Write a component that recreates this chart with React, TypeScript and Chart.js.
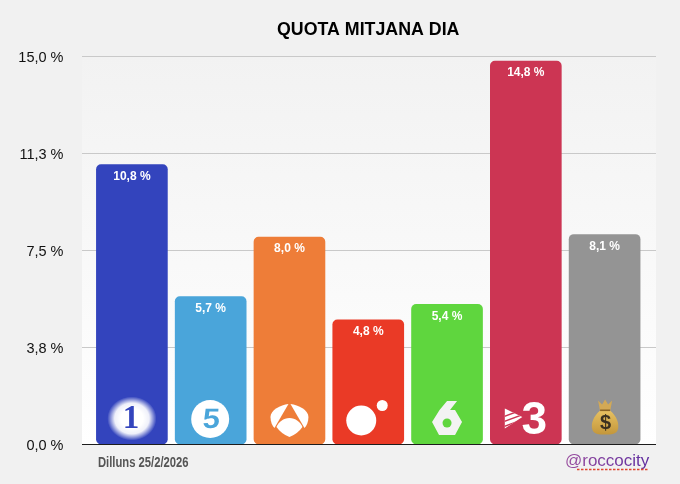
import React, { useEffect, useRef } from "react";
import { Chart, registerables } from "chart.js";

Chart.register(...registerables);

const channels = ["La 1", "Telecinco", "Antena 3", "Cuatro", "laSexta", "3CAT", "Altres"];
const shares = [10.8, 5.7, 8.0, 4.8, 5.4, 14.8, 8.1];
const shareLabels = ["10,8 %", "5,7 %", "8,0 %", "4,8 %", "5,4 %", "14,8 %", "8,1 %"];
const barColors = ["#3344BD", "#4AA5DA", "#EE7D38", "#EA3A26", "#5FD63E", "#CC3553", "#949494"];
const tickValues = [0, 3.75, 7.5, 11.25, 15];
const tickLabels = ["0,0 %", "3,8 %", "7,5 %", "11,3 %", "15,0 %"];
const titleText = "QUOTA MITJANA DIA";
const dateText = "Dilluns 25/2/2026";
const handleText = "@roccocity";

const FONT = '"Liberation Sans", Arial, sans-serif';
const PAGE_BG = "#f1f1f1";

type Ctx = CanvasRenderingContext2D;

function poly(c: Ctx, x: number, y: number, pts: number[][]) {
  c.beginPath();
  pts.forEach(([px, py], i) => (i ? c.lineTo(x + px, y + py) : c.moveTo(x + px, y + py)));
  c.closePath();
  c.fill();
}

function logoOne(c: Ctx, x: number, y: number) {
  c.save();
  c.translate(x, y);
  c.scale(1.12, 1);
  const g = c.createRadialGradient(0, 0, 10, 0, 0, 22);
  g.addColorStop(0, "rgba(255,255,255,1)");
  g.addColorStop(0.45, "rgba(255,255,255,0.92)");
  g.addColorStop(1, "rgba(255,255,255,0)");
  c.fillStyle = g;
  c.beginPath();
  c.arc(0, 0, 22, 0, Math.PI * 2);
  c.fill();
  c.restore();
  c.fillStyle = "#3344BD";
  c.font = 'bold 33px "Liberation Serif", serif';
  c.textAlign = "center";
  c.textBaseline = "middle";
  c.fillText("1", x - 1, y + 1);
}

function logoFive(c: Ctx, x: number, y: number) {
  c.fillStyle = "#fff";
  c.beginPath();
  c.arc(x, y, 19, 0, Math.PI * 2);
  c.fill();
  c.fillStyle = "#4AA5DA";
  c.font = `bold 28px ${FONT}`;
  c.textAlign = "center";
  c.textBaseline = "middle";
  c.save();
  c.translate(x + 1, y + 1);
  c.transform(1.1, 0, -0.06, 1, 0, 0);
  c.fillText("5", 0, 0);
  c.restore();
  c.fillStyle = "#fff";
  c.beginPath();
  c.ellipse(x, y + 1, 4, 1.4, 0, 0, Math.PI * 2);
  c.fill();
}

function logoAntena(c: Ctx, x: number, y: number) {
  c.fillStyle = "#fff";
  // left lobe
  c.beginPath();
  c.moveTo(x - 1, y - 16);
  c.bezierCurveTo(x - 9, y - 15, x - 19, y - 10, x - 19, y - 3);
  c.bezierCurveTo(x - 19, y + 2, x - 17, y + 6, x - 15, y + 8);
  c.closePath();
  c.fill();
  // right lobe
  c.beginPath();
  c.moveTo(x + 1, y - 16);
  c.bezierCurveTo(x + 9, y - 15, x + 19, y - 10, x + 19, y - 3);
  c.bezierCurveTo(x + 19, y + 2, x + 17, y + 6, x + 15, y + 8);
  c.closePath();
  c.fill();
  // lower dome
  c.beginPath();
  c.moveTo(x, y - 2);
  c.bezierCurveTo(x + 6, y - 2, x + 11, y + 2, x + 13, y + 7);
  c.quadraticCurveTo(x + 8, y + 14, x, y + 17);
  c.quadraticCurveTo(x - 8, y + 14, x - 13, y + 7);
  c.bezierCurveTo(x - 11, y + 2, x - 6, y - 2, x, y - 2);
  c.closePath();
  c.fill();
}

function logoCuatro(c: Ctx, x: number, y: number) {
  c.fillStyle = "#fff";
  c.beginPath();
  c.arc(x - 7, y + 2, 15, 0, Math.PI * 2);
  c.fill();
  c.beginPath();
  c.arc(x + 14, y - 13, 5.5, 0, Math.PI * 2);
  c.fill();
}

function logoSix(c: Ctx, x: number, y: number, barColor: string) {
  c.fillStyle = "#f3f3f3";
  poly(c, x, y, [
    [-15, -1],
    [-7.5, -13],
    [0, -22],
    [10, -22],
    [3, -13],
    [8, -13],
    [15, -1],
    [8, 12],
    [-8, 12],
  ]);
  c.fillStyle = barColor;
  c.beginPath();
  c.arc(x, y, 4.5, 0, Math.PI * 2);
  c.fill();
}

function logoThree(c: Ctx, x: number, y: number) {
  c.fillStyle = "#fff";
  c.font = `bold 46px ${FONT}`;
  c.textAlign = "center";
  c.textBaseline = "middle";
  c.fillText("3", x + 8.5, y + 3);
  c.save();
  c.beginPath();
  c.moveTo(x - 21, y - 10);
  c.lineTo(x - 3.5, y - 1.5);
  c.lineTo(x - 21, y + 10);
  c.closePath();
  c.clip();
  c.fillRect(x - 22, y - 12, 24, 24);
  c.strokeStyle = "#CC3553";
  c.lineWidth = 1.5;
  for (const d of [-4, 1, 6]) {
    c.beginPath();
    c.moveTo(x - 22, y + d + 2);
    c.lineTo(x, y + d - 6);
    c.stroke();
  }
  c.restore();
}

function logoBag(c: Ctx, x: number, y: number) {
  c.fillStyle = "#d3a955";
  poly(c, x, y, [
    [-7, -19],
    [-3, -15],
    [0, -20],
    [3, -15],
    [7, -19],
    [5, -8],
    [-5, -8],
  ]);
  const g = c.createLinearGradient(0, y - 10, 0, y + 16);
  g.addColorStop(0, "#e8c263");
  g.addColorStop(1, "#c2953a");
  c.fillStyle = g;
  c.beginPath();
  c.moveTo(x - 5, y - 9);
  c.bezierCurveTo(x - 12, y - 3, x - 14, y + 4, x - 13, y + 9);
  c.bezierCurveTo(x - 12, y + 15, x - 6, y + 15, x, y + 15);
  c.bezierCurveTo(x + 6, y + 15, x + 12, y + 15, x + 13, y + 9);
  c.bezierCurveTo(x + 14, y + 4, x + 12, y - 3, x + 5, y - 9);
  c.closePath();
  c.fill();
  c.fillStyle = "#8a6426";
  c.fillRect(x - 5, y - 10, 10, 1.6);
  c.fillStyle = "#3a3020";
  c.font = `bold 20px ${FONT}`;
  c.textAlign = "center";
  c.textBaseline = "middle";
  c.fillText("$", x + 0.5, y + 4);
}

const decor = {
  id: "decor",
  beforeDraw(chart: Chart) {
    const c = chart.ctx;
    const y = chart.scales.y;
    const left = 82;
    const right = 656;
    c.save();
    c.fillStyle = PAGE_BG;
    c.fillRect(0, 0, chart.width, chart.height);
    const g = c.createLinearGradient(0, y.top, 0, y.bottom);
    g.addColorStop(0, "#f2f2f2");
    g.addColorStop(1, "#ffffff");
    c.fillStyle = g;
    c.fillRect(left, y.top, right - left, y.bottom - y.top);
    c.strokeStyle = "#c9c9c9";
    c.lineWidth = 1;
    for (const v of tickValues) {
      if (v === 0) continue;
      const py = Math.round(y.getPixelForValue(v)) + 0.5;
      c.beginPath();
      c.moveTo(left, py);
      c.lineTo(right, py);
      c.stroke();
    }
    c.restore();
  },
  afterDatasetsDraw(chart: Chart) {
    const c = chart.ctx;
    const y = chart.scales.y;
    const meta = chart.getDatasetMeta(0);
    c.save();
    // baseline
    c.strokeStyle = "#1c1c1c";
    c.lineWidth = 1;
    const base = Math.round(y.getPixelForValue(0)) + 0.5;
    c.beginPath();
    c.moveTo(82, base);
    c.lineTo(656, base);
    c.stroke();
    // value labels
    meta.data.forEach((el: any, i: number) => {
      c.fillStyle = "#fff";
      c.font = `bold 12px ${FONT}`;
      c.textAlign = "center";
      c.textBaseline = "middle";
      c.fillText(shareLabels[i], el.x, el.y + 12);
    });
    // channel logos
    const ly = base - 26;
    logoOne(c, meta.data[0].x, ly);
    logoFive(c, meta.data[1].x - 0.5, ly + 0.5);
    logoAntena(c, meta.data[2].x, ly + 1.5);
    logoCuatro(c, meta.data[3].x, ly);
    logoSix(c, meta.data[4].x, ly + 4.5, barColors[4]);
    logoThree(c, meta.data[5].x, ly);
    logoBag(c, meta.data[6].x + 0.5, ly + 1);
    // footer date, horizontally condensed
    c.save();
    c.translate(98, 463);
    c.scale(0.775, 1);
    c.fillStyle = "#555555";
    c.font = `bold 14.5px ${FONT}`;
    c.textAlign = "left";
    c.textBaseline = "middle";
    c.fillText(dateText, 0, 0);
    c.restore();
    // handle
    c.font = `17px ${FONT}`;
    c.textAlign = "left";
    c.textBaseline = "middle";
    const hw = c.measureText(handleText).width;
    const hx = 565;
    const hg = c.createLinearGradient(hx, 0, hx + hw, 0);
    hg.addColorStop(0, "#9a4f9f");
    hg.addColorStop(1, "#5f2da0");
    c.fillStyle = hg;
    c.fillText(handleText, hx, 461);
    c.strokeStyle = "#e0452f";
    c.lineWidth = 1.5;
    c.setLineDash([2.5, 1.5]);
    c.beginPath();
    c.moveTo(577, 469.5);
    c.lineTo(648, 469.5);
    c.stroke();
    c.restore();
  },
};

export default function App() {
  const ref = useRef<HTMLCanvasElement>(null);
  useEffect(() => {
    document.body.style.margin = "0";
    document.body.style.background = PAGE_BG;
    const chart = new Chart(ref.current!, {
      type: "bar",
      data: {
        labels: channels,
        datasets: [
          {
            data: shares,
            backgroundColor: barColors,
            barThickness: 71,
            borderRadius: 5,
            borderSkipped: false,
          },
        ],
      },
      options: {
        responsive: false,
        animation: false,
        devicePixelRatio: 1,
        layout: { padding: { left: 0, right: 36, bottom: 40, top: 0 } },
        plugins: {
          legend: { display: false },
          tooltip: { enabled: false },
          title: {
            display: true,
            text: titleText,
            fullSize: false,
            color: "#000",
            font: { family: FONT, size: 17.8, weight: "bold" },
            padding: { top: 19.6, bottom: 15 },
          },
        },
        scales: {
          x: { display: false, grid: { display: false } },
          y: {
            min: 0,
            max: 15,
            afterFit: (s: any) => {
              s.width = 92.5;
            },
            afterBuildTicks: (s: any) => {
              s.ticks = tickValues.map((value) => ({ value }));
            },
            grid: { display: false },
            border: { display: false },
            ticks: {
              padding: 21,
              labelOffset: 2,
              color: "#111",
              font: { family: FONT, size: 14.5 },
              callback: (v: any) => tickLabels[tickValues.indexOf(Number(v))],
            },
          },
        },
      },
      plugins: [decor],
    } as any);
    return () => chart.destroy();
  }, []);
  return <canvas ref={ref} width={680} height={484} style={{ display: "block" }} />;
}
